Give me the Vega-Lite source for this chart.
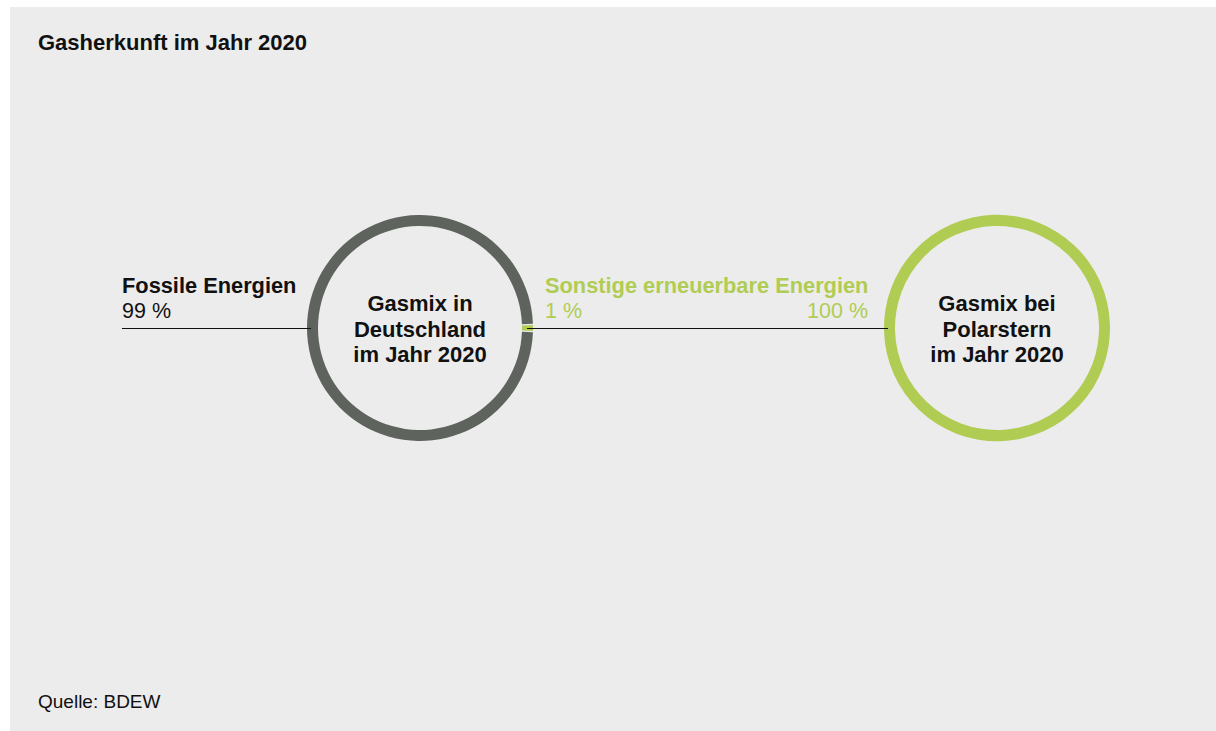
{
  "$schema": "https://vega.github.io/schema/vega-lite/v6.json",
  "width": 1206,
  "height": 724,
  "autosize": {"type": "none"},
  "padding": {"left": 10, "top": 7, "right": 0, "bottom": 0},
  "background": "white",
  "config": {"view": {"fill": "#ececec", "stroke": null}, "font": "Liberation Sans"},
  "datasets": {
    "rings": [
      {"ring": "Deutschland", "cx": 420, "cy": 328, "source": "Sonstige erneuerbare Energien", "share": 1, "order": 1},
      {"ring": "Deutschland", "cx": 420, "cy": 328, "source": "Fossile Energien", "share": 99, "order": 2},
      {"ring": "Polarstern", "cx": 997, "cy": 328, "source": "Sonstige erneuerbare Energien", "share": 100, "order": 1}
    ],
    "leaders": [
      {"group": "fossil", "from": 122, "to": 311, "y": 328.5},
      {"group": "renewable", "from": 527, "to": 888, "y": 328.5}
    ],
    "labels": [
      {"kind": "title", "group": "neutral", "text": "Gasherkunft im Jahr 2020", "x": 38, "y": 50},
      {"kind": "note", "group": "neutral", "text": "Quelle: BDEW", "x": 38, "y": 708},
      {"kind": "name", "group": "fossil", "text": "Fossile Energien", "x": 122, "y": 293},
      {"kind": "name", "group": "renewable", "text": "Sonstige erneuerbare Energien", "x": 545, "y": 293},
      {"kind": "share", "group": "fossil", "text": "99 %", "x": 122, "y": 318},
      {"kind": "share", "group": "renewable", "text": "1 %", "x": 545, "y": 318},
      {"kind": "shareTarget", "group": "renewable", "text": "100 %", "x": 868, "y": 318},
      {"kind": "center", "group": "neutral", "text": "Gasmix in\nDeutschland\nim Jahr 2020", "x": 420, "y": 311},
      {"kind": "center", "group": "neutral", "text": "Gasmix bei\nPolarstern\nim Jahr 2020", "x": 997, "y": 311}
    ]
  },
  "encoding": {
    "x": {"type": "quantitative", "scale": {"domain": [10, 1216], "zero": false, "nice": false}, "axis": null},
    "y": {"type": "quantitative", "scale": {"domain": [7, 731], "zero": false, "nice": false, "reverse": true}, "axis": null}
  },
  "layer": [
    {
      "data": {"name": "rings"},
      "transform": [{"filter": "datum.ring === 'Deutschland'"}],
      "mark": {"type": "arc", "outerRadius": 113, "innerRadius": 102, "padAngle": 0.008},
      "encoding": {
        "x": {"field": "cx", "type": "quantitative"},
        "y": {"field": "cy", "type": "quantitative"},
        "theta": {"field": "share", "type": "quantitative", "stack": true, "scale": {"domain": [0, 100], "range": [1.53938, 7.8225655]}},
        "order": {"field": "order", "type": "quantitative"},
        "color": {"field": "source", "type": "nominal", "scale": {"domain": ["Fossile Energien", "Sonstige erneuerbare Energien"], "range": ["#5e635d", "#b0cc53"]}, "legend": null}
      }
    },
    {
      "data": {"name": "rings"},
      "transform": [{"filter": "datum.ring === 'Polarstern'"}],
      "mark": {"type": "arc", "outerRadius": 113, "innerRadius": 102, "padAngle": 0},
      "encoding": {
        "x": {"field": "cx", "type": "quantitative"},
        "y": {"field": "cy", "type": "quantitative"},
        "theta": {"field": "share", "type": "quantitative", "stack": true, "scale": {"domain": [0, 100], "range": [1.53938, 7.8225655]}},
        "order": {"field": "order", "type": "quantitative"},
        "color": {"field": "source", "type": "nominal", "scale": {"domain": ["Fossile Energien", "Sonstige erneuerbare Energien"], "range": ["#5e635d", "#b0cc53"]}, "legend": null}
      }
    },
    {
      "data": {"name": "leaders"},
      "mark": {"type": "rule", "color": "#111111", "strokeWidth": 1},
      "encoding": {
        "x": {"field": "from", "type": "quantitative"},
        "x2": {"field": "to"},
        "y": {"field": "y", "type": "quantitative"}
      }
    },
    {
      "data": {"name": "labels"},
      "transform": [{"filter": "datum.kind === 'title'"}],
      "mark": {"type": "text", "align": "left", "baseline": "alphabetic", "fontWeight": "bold", "fontSize": 22, "color": "#111111"},
      "encoding": {
        "x": {"field": "x", "type": "quantitative"},
        "y": {"field": "y", "type": "quantitative"},
        "text": {"field": "text"}
      }
    },
    {
      "data": {"name": "labels"},
      "transform": [{"filter": "datum.kind === 'note'"}],
      "mark": {"type": "text", "align": "left", "baseline": "alphabetic", "fontSize": 19, "color": "#111111"},
      "encoding": {
        "x": {"field": "x", "type": "quantitative"},
        "y": {"field": "y", "type": "quantitative"},
        "text": {"field": "text"}
      }
    },
    {
      "data": {"name": "labels"},
      "transform": [{"filter": "datum.kind === 'name'"}],
      "mark": {"type": "text", "align": "left", "baseline": "alphabetic", "fontWeight": "bold", "fontSize": 21.8},
      "encoding": {
        "x": {"field": "x", "type": "quantitative"},
        "y": {"field": "y", "type": "quantitative"},
        "text": {"field": "text"},
        "color": {"field": "group", "type": "nominal", "scale": {"domain": ["fossil", "renewable"], "range": ["#111111", "#b0cc53"]}, "legend": null}
      }
    },
    {
      "data": {"name": "labels"},
      "transform": [{"filter": "datum.kind === 'share'"}],
      "mark": {"type": "text", "align": "left", "baseline": "alphabetic", "fontSize": 21.5},
      "encoding": {
        "x": {"field": "x", "type": "quantitative"},
        "y": {"field": "y", "type": "quantitative"},
        "text": {"field": "text"},
        "color": {"field": "group", "type": "nominal", "scale": {"domain": ["fossil", "renewable"], "range": ["#111111", "#b0cc53"]}, "legend": null}
      }
    },
    {
      "data": {"name": "labels"},
      "transform": [{"filter": "datum.kind === 'shareTarget'"}],
      "mark": {"type": "text", "align": "right", "baseline": "alphabetic", "fontSize": 21.5},
      "encoding": {
        "x": {"field": "x", "type": "quantitative"},
        "y": {"field": "y", "type": "quantitative"},
        "text": {"field": "text"},
        "color": {"field": "group", "type": "nominal", "scale": {"domain": ["fossil", "renewable"], "range": ["#111111", "#b0cc53"]}, "legend": null}
      }
    },
    {
      "data": {"name": "labels"},
      "transform": [{"filter": "datum.kind === 'center'"}],
      "mark": {"type": "text", "align": "center", "baseline": "alphabetic", "fontWeight": "bold", "fontSize": 22, "lineBreak": "\n", "lineHeight": 25.7, "color": "#111111"},
      "encoding": {
        "x": {"field": "x", "type": "quantitative"},
        "y": {"field": "y", "type": "quantitative"},
        "text": {"field": "text"}
      }
    }
  ],
  "resolve": {"scale": {"color": "independent"}}
}
